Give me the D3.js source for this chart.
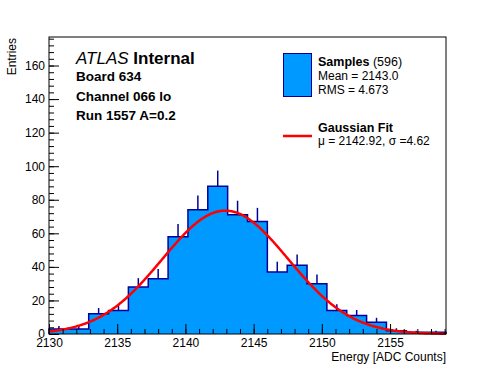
<!DOCTYPE html>
<html>
<head>
<meta charset="utf-8">
<script src="https://cdn.jsdelivr.net/npm/d3@7"></script>
<style>
  body { margin: 0; background: #fff; }
  text { font-family: "Liberation Sans", Arial, Helvetica, sans-serif; }
</style>
</head>
<body>
<div id="canvas"></div>
<script>
// histogram: 20 bins from 2130 up to the axis end
const xMin = 2130;
const xMax = 2159.1;
const counts = [3, 3, 12, 14, 28, 33, 58, 74, 88, 71, 67, 37, 41, 30, 14, 11, 7, 2, 1, 1];
const xTicks = [2130, 2135, 2140, 2145, 2150, 2155];
const yTicks = [0, 20, 40, 60, 80, 100, 120, 140, 160];
const yMax = 177;

// gaussian fit
const fitMu = 2142.92;
const fitSigma = 4.62;
const fitConst = 73.5;

const infoLines = ["Board 634", "Channel 066 lo", "Run 1557 A=0.2"];

const width = 496;
const height = 372;
const margin = { top: 37, left: 49, bottom: 38, right: 50 };
const iwidth = width - margin.left - margin.right;
const iheight = height - margin.top - margin.bottom;

const svg = d3.select("#canvas").append("svg")
    .attr("width", width)
    .attr("height", height);

const g = svg.append("g")
    .attr("transform", `translate(${margin.left}, ${margin.top})`);

const x = d3.scaleLinear().domain([xMin, xMax]).range([0, iwidth]);
const y = d3.scaleLinear().domain([0, yMax]).range([iheight, 0]);

const binW = (xMax - xMin) / counts.length;
const bins = counts.map((c, i) => ({ x0: xMin + i * binW, x1: xMin + (i + 1) * binW, c: c }));

// error bars (drawn under the fill, so only the upper part shows)
g.selectAll("line.err").data(bins).enter()
    .append("line")
    .attr("class", "err")
    .attr("x1", d => x((d.x0 + d.x1) / 2))
    .attr("x2", d => x((d.x0 + d.x1) / 2))
    .attr("y1", d => y(Math.max(0, d.c - Math.sqrt(d.c))))
    .attr("y2", d => y(d.c + Math.sqrt(d.c)))
    .style("stroke", "#000099")
    .style("stroke-width", 1.5);

// step outline
const pts = [[x(xMin), y(0)]];
bins.forEach(d => { pts.push([x(d.x0), y(d.c)]); pts.push([x(d.x1), y(d.c)]); });
pts.push([x(xMax), y(0)]);

g.append("path")
    .attr("d", d3.line()(pts))
    .style("fill", "#0099ff")
    .style("stroke", "#000099")
    .style("stroke-width", 1.5);

// fit curve
const curve = d3.range(0, 401).map(i => {
    const xv = xMin + (xMax - xMin) * i / 400;
    const v = fitConst * Math.exp(-0.5 * Math.pow((xv - fitMu) / fitSigma, 2));
    return [x(xv), y(v)];
});
g.append("path")
    .attr("d", d3.line()(curve))
    .style("fill", "none")
    .style("stroke", "#ff0000")
    .style("stroke-width", 2.5);

// frame
g.append("rect")
    .attr("width", iwidth)
    .attr("height", iheight)
    .style("fill", "none")
    .style("stroke", "#000")
    .style("stroke-width", 1);

// ticks inside the frame, ROOT style
const xAxis = d3.axisBottom(x).tickValues(xTicks).tickSize(-10).tickFormat(d3.format("d")).tickPadding(4);
const xMinor = d3.axisBottom(x).tickValues(d3.range(xMin, xMax, 1)).tickSize(-5).tickFormat("");
const yAxis = d3.axisLeft(y).tickValues(yTicks).tickSize(-10).tickPadding(4);
const yMinor = d3.axisLeft(y).tickValues(d3.range(0, yMax, 4)).tickSize(-5).tickFormat("");

[xMinor, xAxis].forEach(a => {
    g.append("g")
        .attr("transform", `translate(0, ${iheight})`)
        .call(a)
        .call(s => s.select(".domain").remove());
});
[yMinor, yAxis].forEach(a => {
    g.append("g")
        .call(a)
        .call(s => s.select(".domain").remove());
});
g.selectAll(".tick text").style("font-size", "12px").style("fill", "#000")
    .style("font-family", "Liberation Sans, Arial, sans-serif");
g.selectAll(".tick line").style("stroke", "#000");

svg.append("text")
    .attr("x", margin.left + iwidth)
    .attr("y", 361)
    .attr("text-anchor", "end")
    .style("font-size", "12px")
    .text("Energy [ADC Counts]");

svg.append("text")
    .attr("transform", `translate(16, ${margin.top + 1}) rotate(-90)`)
    .attr("text-anchor", "end")
    .style("font-size", "12px")
    .text("Entries");

// ATLAS label
const atlas = svg.append("text")
    .attr("x", 76)
    .attr("y", 64)
    .style("font-size", "17px");
atlas.append("tspan").style("font-style", "italic").text("ATLAS ");
atlas.append("tspan").style("font-weight", "bold").text("Internal");

svg.selectAll("text.info").data(infoLines).enter()
    .append("text")
    .attr("class", "info")
    .attr("x", 76)
    .attr("y", (d, i) => 81 + i * 19.5)
    .style("font-size", "13.5px")
    .style("font-weight", "bold")
    .text(d => d);

// legend
svg.append("rect")
    .attr("x", 283.5).attr("y", 53.5)
    .attr("width", 28).attr("height", 43)
    .style("fill", "#0099ff")
    .style("stroke", "#000099")
    .style("stroke-width", 1);

const s1 = svg.append("text").attr("x", 318).attr("y", 66).style("font-size", "12.5px");
s1.append("tspan").style("font-weight", "bold").text("Samples");
s1.append("tspan").text(" (596)");

svg.append("text").attr("x", 318).attr("y", 80).style("font-size", "12px").text("Mean = 2143.0");
svg.append("text").attr("x", 318).attr("y", 94).style("font-size", "12px").text("RMS = 4.673");

svg.append("line")
    .attr("x1", 283).attr("x2", 312)
    .attr("y1", 136).attr("y2", 136)
    .style("stroke", "#ff0000")
    .style("stroke-width", 2.5);

svg.append("text").attr("x", 318).attr("y", 132).style("font-size", "12.5px")
    .style("font-weight", "bold").text("Gaussian Fit");
svg.append("text").attr("x", 318).attr("y", 145).style("font-size", "12px")
    .text("\u03bc = " + fitMu + ", \u03c3 =" + fitSigma);
</script>
</body>
</html>
